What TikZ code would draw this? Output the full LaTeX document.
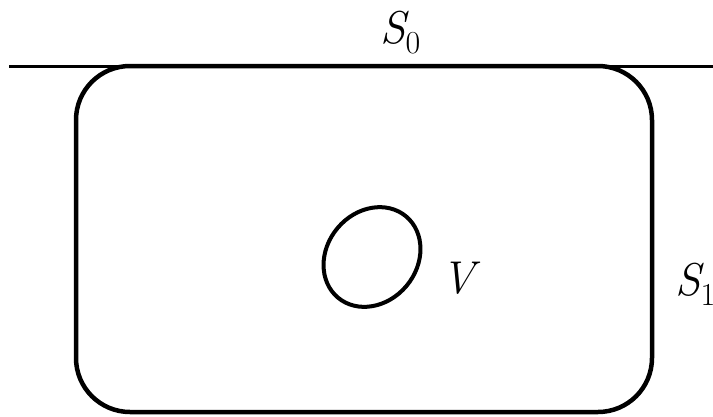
\documentclass[tikz,border=0pt]{standalone}
\usepackage{fontspec}
\usetikzlibrary{shapes.geometric}
\newcommand{\mysub}[2]{{\itshape #1}\raisebox{-10pt}{\fontsize{32}{32}\selectfont #2}}
\begin{document}
\begin{tikzpicture}[x=1pt,y=-1pt,
  lbl/.style={inner sep=0pt,anchor=base west,font=\fontsize{46}{46}\selectfont},
  boxline/.style={line width=4.5pt,rounded corners=54pt},
  topline/.style={line width=3pt},
  blob/.style={draw,ellipse,line width=4pt,minimum width=106pt,minimum height=90pt,inner sep=0pt}]
\useasboundingbox (0,0) rectangle (713,416);
\coordinate (L) at (9,66);
\coordinate (R) at (713,66);
\draw[topline] (L) -- (R);
\draw[boxline] (76,66) rectangle (652,412);
\node[blob,rotate=50] (v) at (372,257) {};
\node[lbl] (s0) at (380,43) {\mysub{S}{0}};
\node[lbl] (vl) at (441,293) {\itshape V};
\node[lbl] (s1) at (675,295) {\mysub{S}{1}};
\end{tikzpicture}
\end{document}
